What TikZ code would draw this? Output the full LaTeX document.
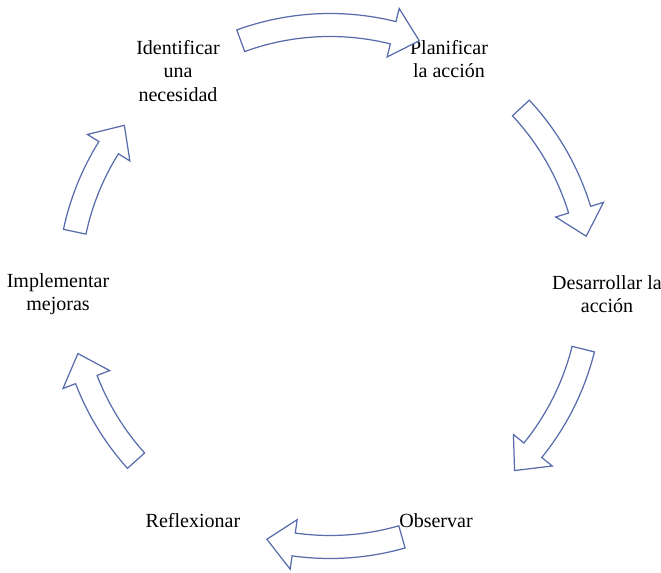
\documentclass[tikz,border=0pt]{standalone}
\usepackage{fontspec}
\setmainfont{Liberation Serif}
\usepackage{tikz}

\definecolor{arrowblue}{RGB}{88,108,172}

\tikzset{
    steplabel/.style={align=center, font=\fontsize{11.4}{13.2}\selectfont, inner sep=1pt},
    arrowline/.style={draw=arrowblue, fill=white, line width=0.7pt, line join=miter}
}

% curved block arrow on the cycle, from angle #1 to angle #2 (clockwise)
\newcommand{\cyclearrow}[2]{%
    \draw[arrowline, shift={(ctr)}] (#1:5.45) arc[start angle=#1, end angle=#2+6, radius=5.45]
        -- (#2+6:5.72) -- (#2:5.22) -- (#2+6:4.72) -- (#2+6:4.99)
        arc[start angle=#2+6, end angle=#1, radius=4.99] -- cycle;}

\begin{document}
\begin{tikzpicture}
            \useasboundingbox (0,0) rectangle (13.22,11.46);
            \coordinate (ctr) at (6.60,5.74);
            \node[steplabel] (necesidad) at (3.56,10.04) {Identificar\\una\\necesidad};
            \node[steplabel] (planificar) at (8.98,10.28) {Planificar\\la acción};
            \node[steplabel] (desarrollar) at (12.14,5.58) {Desarrollar la\\acción};
            \node[steplabel] (observar) at (8.72,1.04) {Observar};
            \node[steplabel] (reflexionar) at (3.86,1.04) {Reflexionar};
            \node[steplabel] (mejoras) at (1.16,5.58) {Implementar\\mejoras};
            \cyclearrow{110}{70}
            \cyclearrow{43}{11}
            \cyclearrow{-14}{-45}
            \cyclearrow{-74}{-104}
            \cyclearrow{-138}{-165}
            \cyclearrow{168}{142}
        \end{tikzpicture}
\end{document}
